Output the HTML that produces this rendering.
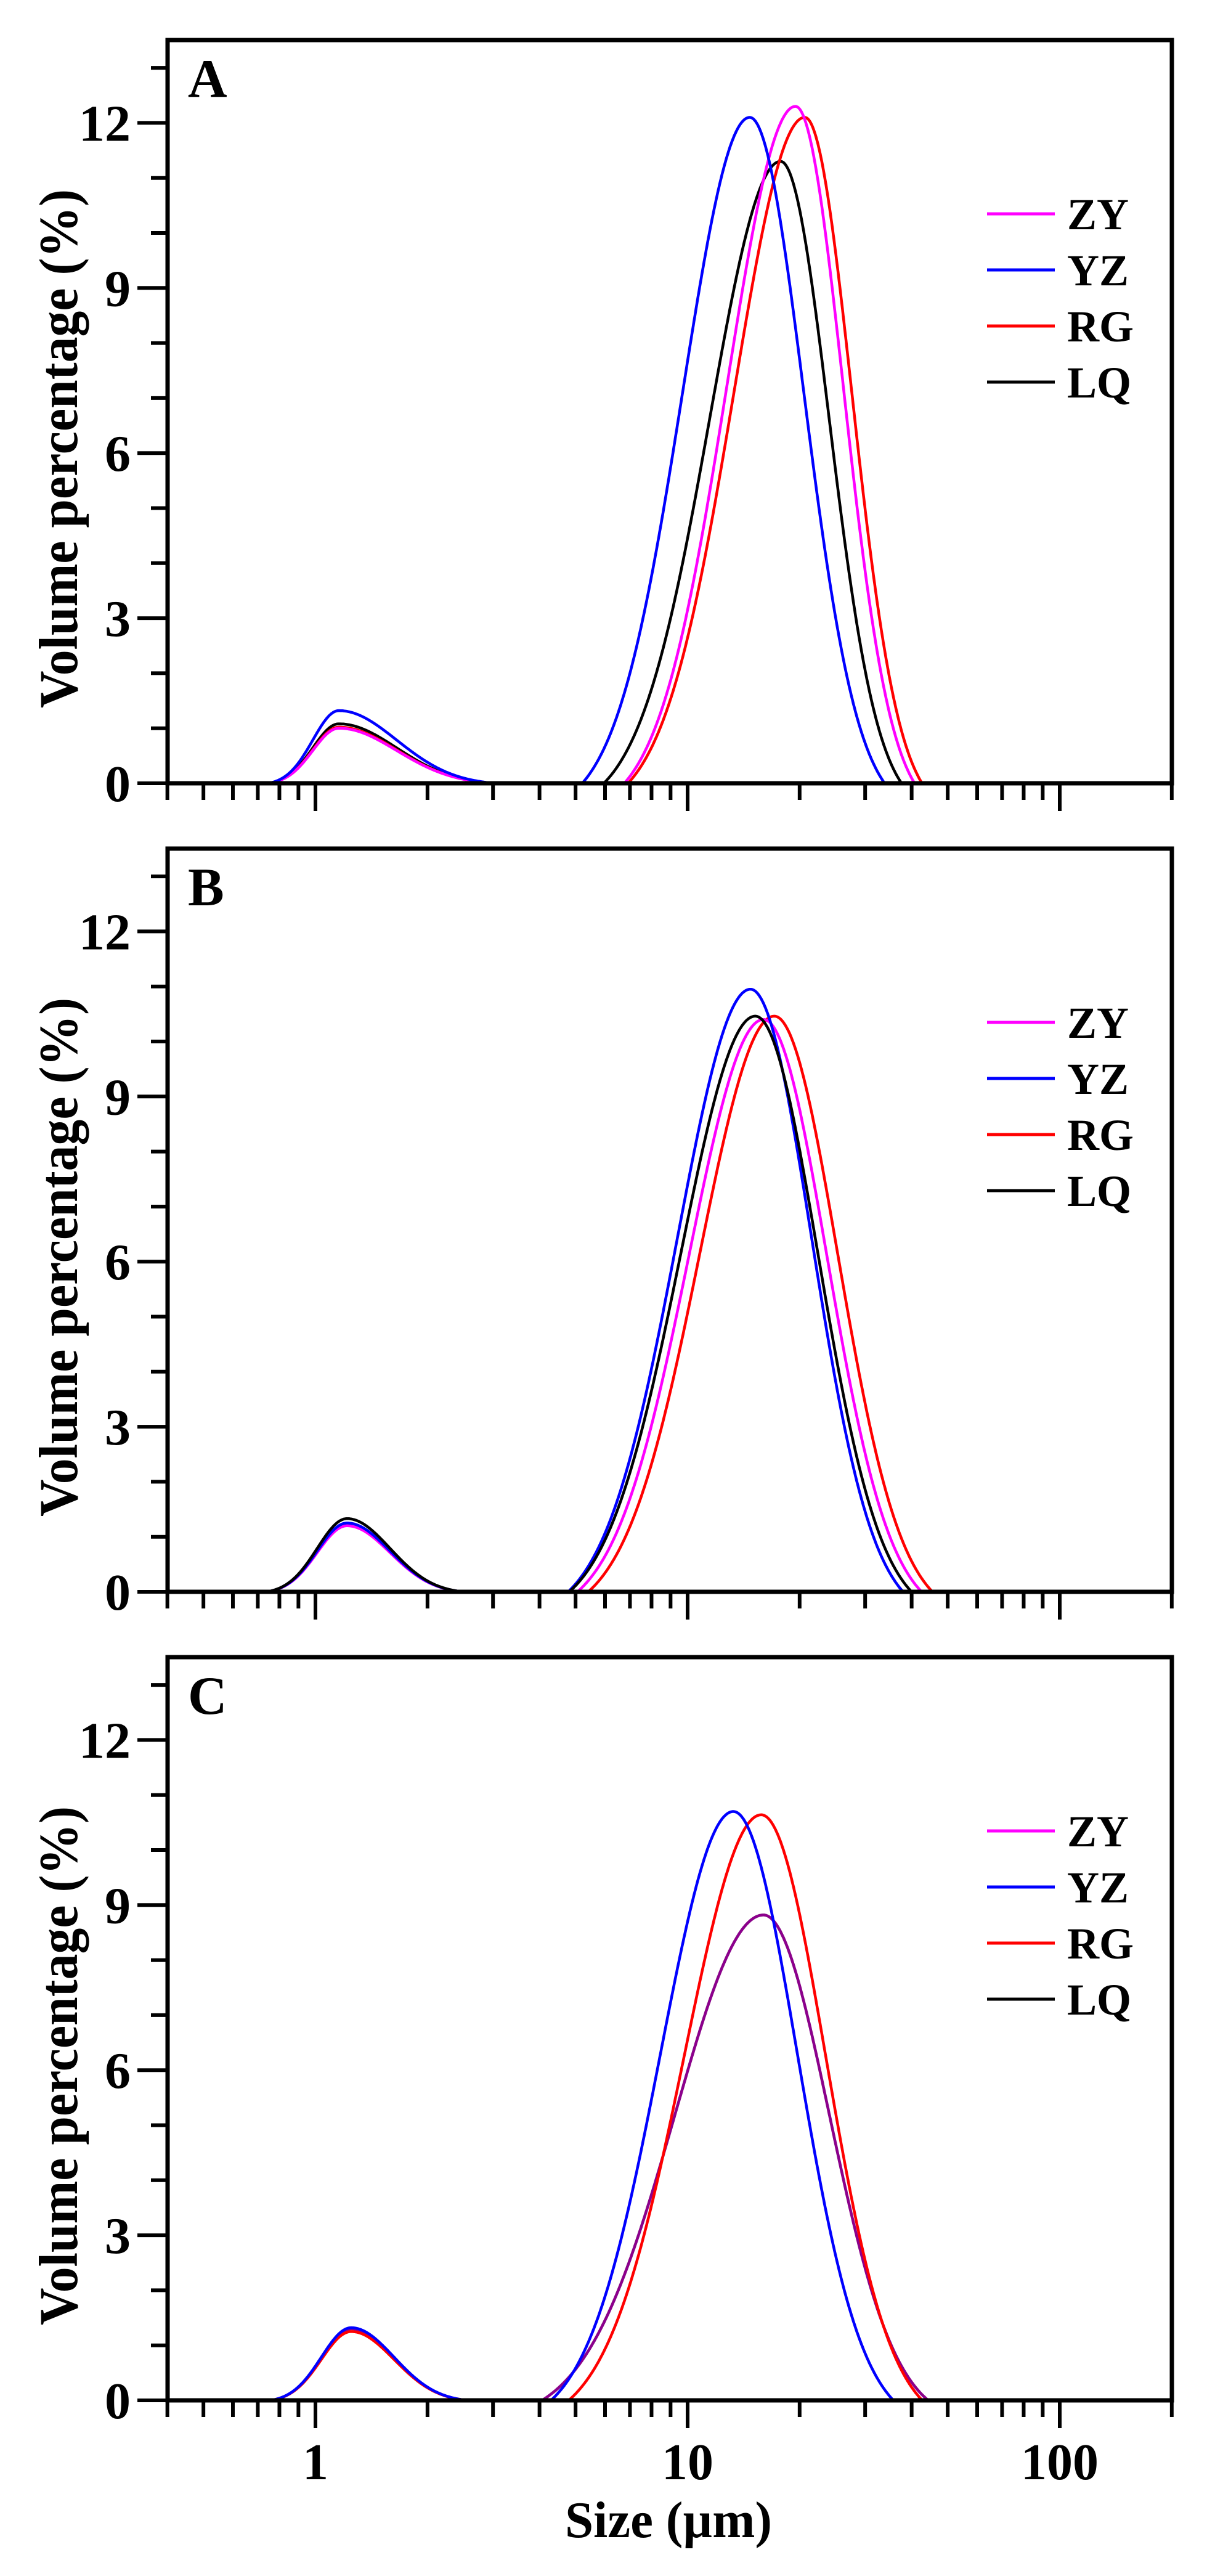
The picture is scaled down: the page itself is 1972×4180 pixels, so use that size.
<!DOCTYPE html>
<html><head><meta charset="utf-8"><style>
html,body{margin:0;padding:0;background:#fff;}
svg{display:block;}
text{font-family:"Liberation Serif",serif;font-weight:bold;fill:#000;}
</style></head><body>
<svg id="s" width="1972" height="4180" viewBox="0 0 1972 4180" xmlns="http://www.w3.org/2000/svg"></svg>
<script>
var NS="http://www.w3.org/2000/svg",S=document.getElementById("s");
function el(t,a,txt){var e=document.createElementNS(NS,t);for(var k in a)e.setAttribute(k,a[k]);if(txt!==undefined)e.textContent=txt;S.appendChild(e);return e;}
var L=272,R=1902,X1=512,DEC=604,UNIT=89.3;
function px(lx){return X1+DEC*lx;}
function g(x,mu,sl,sr,k){var s=x<mu?sl:sr;var d=(x-mu)/s;if(Math.abs(d)>=k)return 0;var gk=Math.exp(-k*k/2);return (Math.exp(-d*d/2)-gk)/(1-gk);}
var lmin=Math.log10(0.4),lmax=Math.log10(200);
function curve(bot,small,main,col,w,op){
  var d="";
  for(var i=0;i<=1400;i++){var lx=lmin+(lmax-lmin)*i/1400;
    var v=small[0]*g(lx,small[1],small[2],small[3],2.7)+main[0]*g(lx,main[1],main[2],main[3],2.5);
    var x=px(lx),y=bot-v*UNIT;d+=(i?"L":"M")+x.toFixed(1)+" "+y.toFixed(1);}
  el("path",{d:d,fill:"none",stroke:col,"stroke-width":w||4.5,"stroke-opacity":op||1,"stroke-linejoin":"round"});
}
var panels=[
 {top:65,lab:"A",series:[
   ["#000",[1.08,0.063,0.07,0.155],[11.3,1.25,0.19,0.13]],
   ["#ff0000",[1.02,0.063,0.07,0.155],[12.1,1.315,0.19,0.126]],
   ["#ff00ff",[1.0,0.063,0.07,0.155],[12.3,1.29,0.184,0.128]],
   ["#0000ff",[1.32,0.063,0.07,0.155],[12.1,1.167,0.18,0.145]]]},
 {top:1377,lab:"B",series:[
   ["#ff0000",[1.22,0.085,0.08,0.115],[10.46,1.233,0.2,0.17]],
   ["#ff00ff",[1.2,0.085,0.08,0.115],[10.4,1.204,0.2,0.17]],
   ["#0000ff",[1.25,0.085,0.08,0.115],[10.95,1.169,0.196,0.164]],
   ["#000",[1.33,0.085,0.08,0.115],[10.46,1.182,0.2,0.168]]]},
 {top:2689,lab:"C",series:[
   ["#000",[1.3,0.096,0.08,0.115],[8.82,1.204,0.238,0.177]],
   ["#ff00ff",[1.3,0.096,0.08,0.115],[8.82,1.204,0.238,0.177],0.55],
   ["#ff0000",[1.25,0.096,0.08,0.115],[10.64,1.198,0.207,0.173]],
   ["#0000ff",[1.32,0.096,0.08,0.115],[10.7,1.123,0.196,0.172]]]}
];
panels.forEach(function(p,pi){
  var top=p.top,bot=top+1206;
  p.series.forEach(function(s){curve(bot,s[1],s[2],s[0],4.5,s[3]);});
  el("rect",{x:L,y:top,width:R-L,height:bot-top,fill:"none",stroke:"#000","stroke-width":7});
  for(var v=0;v<=13;v++){var y=bot-v*UNIT;var maj=v%3==0;
    el("line",{x1:maj?223:245,y1:y,x2:L,y2:y,stroke:"#000","stroke-width":6});
    if(maj)el("text",{x:212,y:y+29,"text-anchor":"end","font-size":84},String(v));}
  for(var e=-1;e<=2;e++)for(var m=1;m<=9;m++){var val=m*Math.pow(10,e);if(val<0.4-1e-9||val>200+1e-9)continue;
    var x=px(Math.log10(val));var maj=(m==1);
    el("line",{x1:x,y1:bot,x2:x,y2:bot+(maj?45:27),stroke:"#000","stroke-width":6});
    if(maj&&pi==2)el("text",{x:x,y:4023,"text-anchor":"middle","font-size":84},String(val));}
  el("text",{x:305,y:top+92,"font-size":88},p.lab);
  var cols=["#ff00ff","#0000ff","#ff0000","#000"],names=["ZY","YZ","RG","LQ"];
  for(var i=0;i<4;i++){var ly=top+282+i*91;
    el("line",{x1:1602,y1:ly,x2:1712,y2:ly,stroke:cols[i],"stroke-width":5});
    el("text",{x:1732,y:ly+25,"font-size":72},names[i]);}
  var cy=top+663;
  el("text",{x:0,y:0,"font-size":89,"text-anchor":"middle",textLength:842,lengthAdjust:"spacingAndGlyphs",transform:"translate(125,"+cy+") rotate(-90)"},"Volume percentage (%)");
});
el("text",{x:1085,y:4117,"text-anchor":"middle","font-size":84,textLength:336,lengthAdjust:"spacingAndGlyphs"},"Size (\u00b5m)");
</script>
</body></html>
